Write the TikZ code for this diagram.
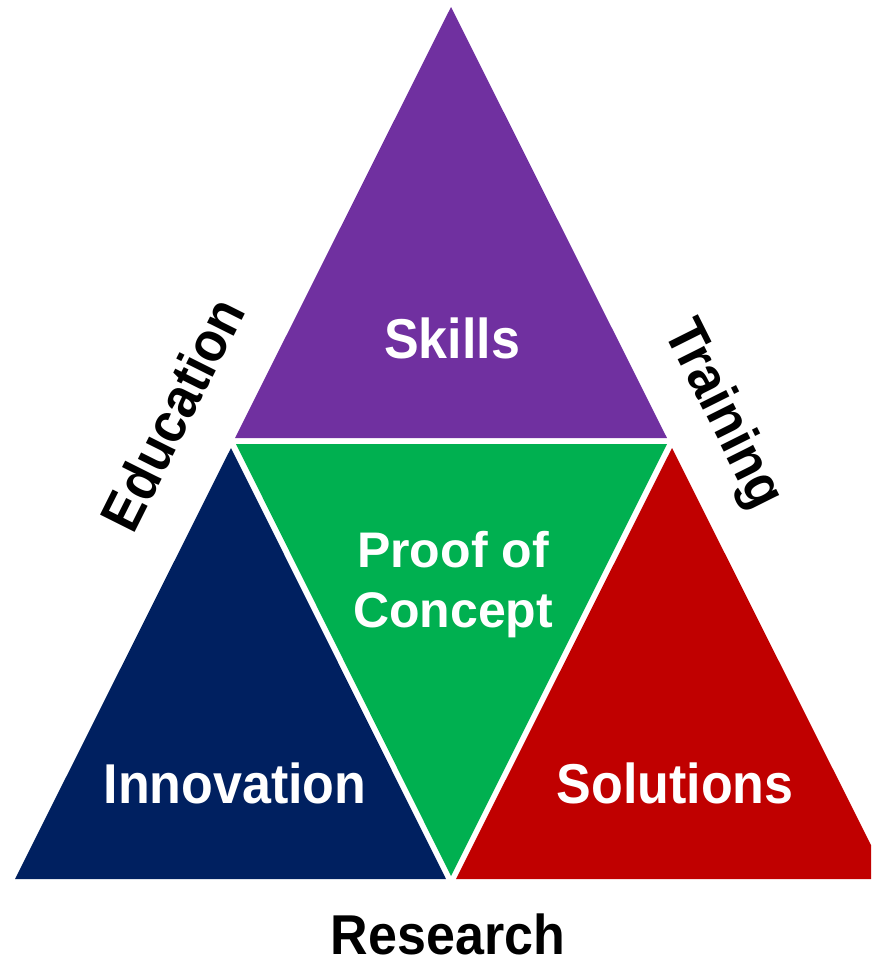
\documentclass[tikz,border=0pt]{standalone}
\usepackage{fontspec}
\setmainfont{Liberation Sans}
\usepackage{graphicx}
\usepackage{tikz}
\usetikzlibrary{calc}

\definecolor{skillpurple}{HTML}{7030A0}
\definecolor{poCgreen}{HTML}{00B050}
\definecolor{innonavy}{HTML}{002060}
\definecolor{solred}{HTML}{C00000}

% words are drawn a little taller than wide
\newcommand{\tallword}[1]{\scalebox{1}[1.08]{#1}}

\begin{document}
\begin{tikzpicture} [x=1pt, y=-1pt,
		inword/.style={align=center, text=white, inner sep=0pt, font=\fontsize{52}{60}\selectfont\bfseries},
		outword/.style={align=center, text=black, inner sep=0pt, font=\fontsize{52}{60}\selectfont\bfseries}]

		\clip (0,0) rectangle (871,959);

		% corners
		\coordinate (sTop) at (451,7);
		\coordinate (sLeft) at (235,438);
		\coordinate (sRight) at (667,438);
		\coordinate (pLeft) at (236,444);
		\coordinate (pRight) at (667,444);
		\coordinate (pBot) at (451,876);
		\coordinate (iTop) at (231,448);
		\coordinate (iLeft) at (15,879);
		\coordinate (iRight) at (446,879);
		\coordinate (rTop) at (672,448);
		\coordinate (rLeft) at (456,879);
		\coordinate (rRight) at (888,879);

		% triangles
		\fill [skillpurple] (sTop) -- (sLeft) -- (sRight) -- cycle;
		\fill [poCgreen] (pLeft) -- (pRight) -- (pBot) -- cycle;
		\fill [innonavy] (iTop) -- (iLeft) -- (iRight) -- cycle;
		\fill [solred] (rTop) -- (rLeft) -- (rRight) -- cycle;

		% inside
		\node[inword, anchor=base] (skills) at (452,358) {\tallword{Skills}};
		\node[inword, font=\fontsize{50}{60}\selectfont\bfseries] (proof) at (453,585) {Proof of\\Concept};
		\node[inword, anchor=base] (innov) at (235,803) {\tallword{Innovation}};
		\node[inword, anchor=base] (solut) at (675,803) {\tallword{Solutions}};

		% sides
		\node[outword, rotate=63.4] (edu) at (172,414) {\tallword{Education}};
		\node[outword, rotate=-63.4] (train) at (722,415) {\tallword{Training}};
		\node[outword, anchor=base] (research) at (448,954) {\tallword{Research}};

	\end{tikzpicture}
\end{document}
